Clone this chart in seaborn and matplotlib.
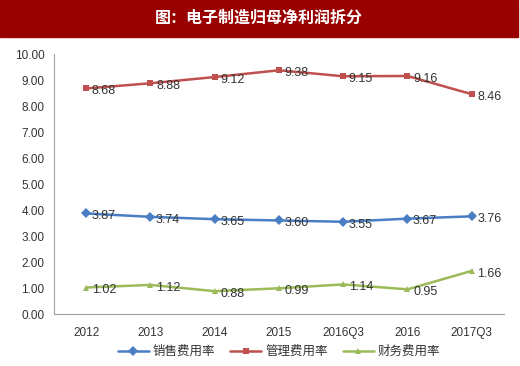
import pandas as pd
import matplotlib.pyplot as plt
import seaborn as sns
from matplotlib.patches import Rectangle

# 数据
periods = ['2012', '2013', '2014', '2015', '2016Q3', '2016', '2017Q3']
sales_rate = [3.87, 3.74, 3.65, 3.60, 3.55, 3.67, 3.76]
admin_rate = [8.68, 8.88, 9.12, 9.38, 9.15, 9.16, 8.46]
finance_rate = [1.02, 1.12, 0.88, 0.99, 1.14, 0.95, 1.66]
series_names = ['销售费用率', '管理费用率', '财务费用率']

df = pd.DataFrame({
    '期间': periods * 3,
    '费用率': sales_rate + admin_rate + finance_rate,
    '项目': [series_names[0]] * 7 + [series_names[1]] * 7 + [series_names[2]] * 7,
})

sns.set_style('white')
plt.rcParams['font.family'] = ['Noto Sans CJK SC', 'DejaVu Sans']

colors = ['#4A7EC4', '#C0504D', '#9BBB59']
markers = ['D', 's', '^']
num_font = ['Liberation Sans', 'DejaVu Sans']

fig = plt.figure(figsize=(5.2, 3.66), dpi=100)
fig.patches.append(Rectangle((0, 0.9), 0.996, 0.1, transform=fig.transFigure,
                             color='#990000', zorder=0))
fig.text(0.497, 0.953, '图：电子制造归母净利润拆分', color='white', fontsize=11.5,
         fontweight='bold', ha='center', va='center')

ax = fig.add_axes([0.104, 0.142, 0.865, 0.71])
sns.lineplot(data=df, x='期间', y='费用率', hue='项目', style='项目',
             palette=colors, markers=markers, dashes=False, markersize=5,
             markeredgewidth=0, linewidth=1.8, ax=ax, sort=False)

for name, vals, c in zip(series_names, [sales_rate, admin_rate, finance_rate], colors):
    for i, v in enumerate(vals):
        ax.annotate(f'{v:.2f}', (i, v), xytext=(4, -2), textcoords='offset points',
                    ha='left', va='center', fontsize=9, color='#333333',
                    family=num_font)

ax.set_xlim(-0.5, 6.5)
ax.set_ylim(0, 10)
ax.set_yticks([i for i in range(11)])
ax.set_yticklabels([f'{i:.2f}' for i in range(11)], fontsize=8.5,
                   family=num_font, color='#333333')
ax.set_xticks(range(7))
ax.set_xticklabels(periods, fontsize=8.5, family=num_font, color='#333333')
ax.set_xticks([i - 0.5 for i in range(8)], minor=True)
ax.tick_params(axis='x', which='major', length=0, pad=9)
ax.tick_params(axis='x', which='minor', length=4, color='#A0A0A0', direction='out')
ax.tick_params(axis='y', length=4, color='#A0A0A0', direction='out', pad=3)
ax.set_xlabel('')
ax.set_ylabel('')
for s in ['top', 'right']:
    ax.spines[s].set_visible(False)
for s in ['left', 'bottom']:
    ax.spines[s].set_color('#A0A0A0')
    ax.spines[s].set_linewidth(0.8)

ax.legend(loc='center', bbox_to_anchor=(0.5, -0.145), ncol=3, frameon=False,
          fontsize=9, handlelength=2.5, columnspacing=1.2, handletextpad=0.3,
          labelcolor='#333333', borderpad=0.2)

fig.savefig('out.png', dpi=100)
